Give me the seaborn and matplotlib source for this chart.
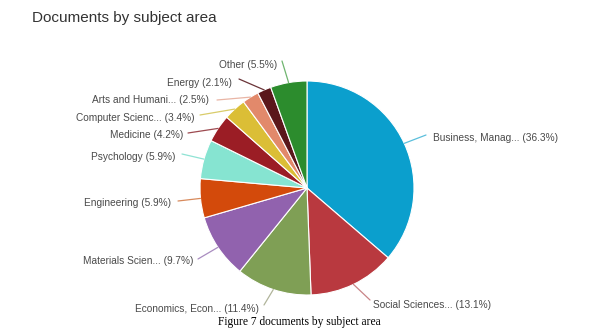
import numpy as np
import matplotlib
matplotlib.use("Agg")
import matplotlib.pyplot as plt
import seaborn as sns

# Subject areas, clockwise from 12 o'clock
subjects = ["Business, Manag...", "Social Sciences...", "Economics, Econ...",
            "Materials Scien...", "Engineering", "Psychology", "Medicine",
            "Computer Scienc...", "Arts and Humani...", "Energy", "Other"]
shares = [36.3, 13.1, 11.4, 9.7, 5.9, 5.9, 4.2, 3.4, 2.5, 2.1, 5.5]
slice_colors = ["#0b9fcd", "#b9393f", "#7f9f55", "#9162ae", "#d34a0b",
                "#86e4d1", "#9b1d25", "#dbbe36", "#e2896b", "#5a171b", "#2c8c2d"]
line_colors = ["#5bbfdc", "#c98487", "#b0b49a", "#a98cc0", "#d88a5c",
               "#8fe3d4", "#9d4a50", "#d9cc6a", "#e9b5a5", "#6a3438", "#6fb56f"]

sns.set_theme(style="white")
plt.rcParams["font.family"] = ["Liberation Sans", "DejaVu Sans"]

W, H = 592, 336
fig = plt.figure(figsize=(W / 100, H / 100), dpi=100)
ax = fig.add_axes([0, 0, 1, 1])

cx, cy, r = 307, H - 188, 107
ax.pie(shares, colors=sns.color_palette(slice_colors), startangle=90,
       counterclock=False, center=(cx, cy), radius=r,
       wedgeprops=dict(edgecolor="white", linewidth=0.8))
ax.set_xlim(0, W)
ax.set_ylim(0, H)
ax.axis("off")

# label anchor (x, y in pixels from top-left), alignment, leader-line elbow
label_layout = [
    ((433, 138), "left", (426, 135)),
    ((373, 305), "left", (370, 300)),
    ((197, 309), "center", (264, 305)),
    ((193, 261), "right", (198, 259)),
    ((171, 203), "right", (178, 201)),
    ((175, 157), "right", (182, 154)),
    ((183, 135), "right", (188, 133)),
    ((195, 118), "right", (200, 115)),
    ((209, 100), "right", (217, 100)),
    ((232, 83), "right", (239, 79)),
    ((277, 65), "right", (282, 61)),
]

cum = np.cumsum([0] + shares[:-1])
for i, (name, val) in enumerate(zip(subjects, shares)):
    mid = np.deg2rad((cum[i] + val / 2) / 100 * 360)
    ex, ey = cx + r * np.sin(mid), cy + r * np.cos(mid)
    (tx, ty), ha, (bx, by) = label_layout[i]
    ax.plot([ex, bx], [ey, H - by], color=line_colors[i], lw=0.9,
            solid_capstyle="round")
    ax.text(tx, H - ty, f"{name} ({val}%)", ha=ha, va="center",
            fontsize=7.3, color="#4a4a4a")

ax.text(32, H - 18, "Documents by subject area", ha="left", va="center",
        fontsize=11.0, color="#333333")
ax.text(299, H - 322, "Figure 7 documents by subject area", ha="center",
        va="center", fontsize=8.3, color="black", family="Liberation Serif")

fig.savefig("out.png", dpi=100)
